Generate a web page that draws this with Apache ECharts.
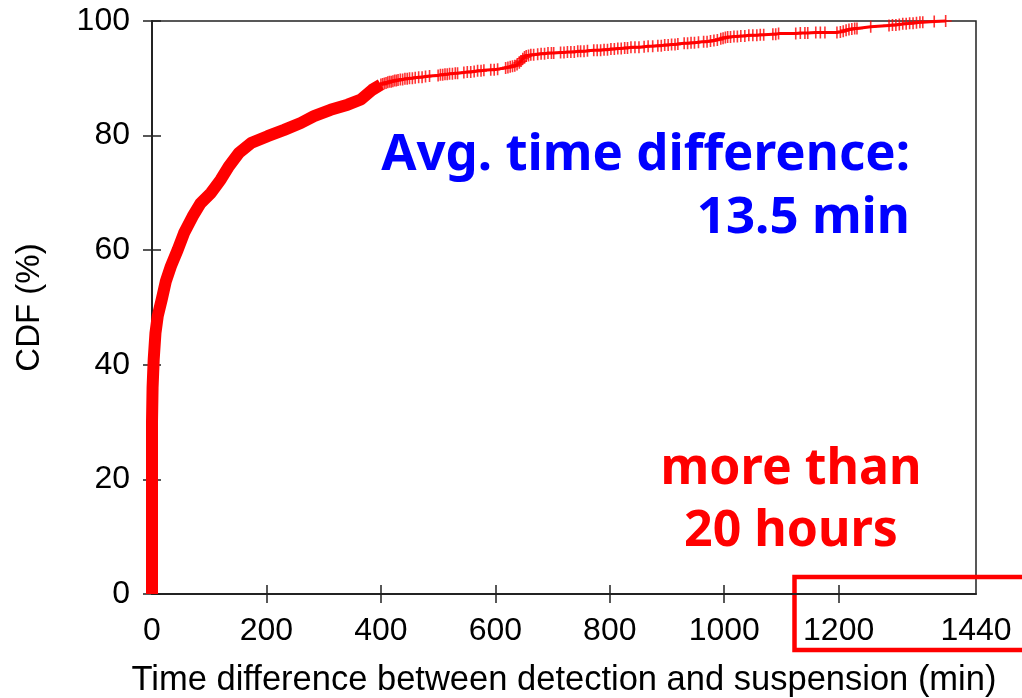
<!DOCTYPE html>
<html>
<head>
    <meta charset="utf-8">
    <script src="https://cdn.jsdelivr.net/npm/echarts@6/dist/echarts.min.js"></script>
    <style>
        html, body { margin: 0; padding: 0; background: #fff; }
    </style>
</head>
<body>
    <div id="cdf" style="width: 1022px;height:698px;"></div>
    <script type="text/javascript">
        // x: minutes between detection and suspension, y: CDF (%)
        // dense part of the curve (markers merge into a solid band)
        var denseMin = [0, 0, 0, 0, 1, 3, 6, 10, 17, 24, 33, 45, 56, 71, 85, 103, 120, 134, 152, 173, 202, 231, 260, 283, 312, 342, 365, 385, 400];
        var densePct = [0, 10, 20, 30, 36, 41, 45.5, 48.5, 51.4, 54.5, 57.2, 60.1, 63, 65.9, 68.2, 70, 72.3, 74.6, 77, 78.7, 79.9, 81, 82.2, 83.4, 84.5, 85.4, 86.3, 88, 88.9];

        // tail, where the single '+' markers can still be told apart
        var tailMin = [400, 403, 406, 409, 412, 415, 418, 421, 424, 427, 430, 434, 438, 442, 446, 450, 455, 460, 466, 472, 478, 485,
            500, 504, 508, 512, 516, 520, 525, 530, 534, 545, 551, 557, 563, 569, 575, 580, 592, 598, 604,
            618, 622, 626, 630, 634, 638, 642, 645, 648, 651, 654, 658, 662, 667, 674, 680, 686, 692, 698, 702,
            714, 720, 726, 732, 738, 744, 749, 755, 761, 772, 778, 784, 790, 796, 802, 808, 814, 820, 826, 831,
            837, 844, 851, 860, 867, 875, 884, 890, 896, 902, 908, 914, 919, 930, 936, 942, 948, 955,
            964, 970, 976, 982, 988, 994, 998, 1002, 1006, 1011, 1017, 1023, 1029, 1036, 1043, 1050, 1057, 1063, 1069,
            1085, 1090, 1095, 1125, 1133, 1141, 1146, 1160, 1168, 1176, 1197, 1203, 1208, 1213, 1218, 1223, 1228, 1232,
            1256, 1288, 1294, 1300, 1306, 1312, 1318, 1324, 1330, 1336, 1342, 1347, 1367, 1387];
        var tailPct = [88.9, 89.0, 89.1, 89.2, 89.3, 89.4, 89.4, 89.5, 89.6, 89.6, 89.7, 89.8, 89.8, 89.9, 89.9, 90.0, 90.0, 90.1, 90.2, 90.2, 90.3, 90.4,
            90.5, 90.6, 90.6, 90.7, 90.7, 90.8, 90.8, 90.9, 90.9, 91.0, 91.1, 91.1, 91.2, 91.3, 91.3, 91.4, 91.5, 91.5, 91.6,
            91.8, 91.9, 92.0, 92.1, 92.2, 92.4, 92.7, 93.0, 93.4, 93.7, 93.9, 94.0, 94.1, 94.1, 94.2, 94.3, 94.3, 94.4, 94.4, 94.4,
            94.5, 94.5, 94.6, 94.6, 94.6, 94.7, 94.7, 94.7, 94.8, 94.9, 94.9, 94.9, 95.0, 95.0, 95.1, 95.1, 95.2, 95.2, 95.3, 95.3,
            95.4, 95.4, 95.4, 95.5, 95.6, 95.6, 95.7, 95.7, 95.8, 95.8, 95.9, 95.9, 96.0, 96.1, 96.1, 96.2, 96.2, 96.3,
            96.4, 96.4, 96.5, 96.6, 96.7, 96.9, 97.0, 97.1, 97.2, 97.2, 97.3, 97.3, 97.4, 97.4, 97.5, 97.5, 97.5, 97.6, 97.6,
            97.7, 97.7, 97.8, 97.8, 97.9, 97.9, 97.9, 98.0, 98.0, 98.0, 98.0, 98.1, 98.2, 98.4, 98.5, 98.6, 98.7, 98.7,
            99.0, 99.2, 99.3, 99.3, 99.4, 99.5, 99.5, 99.6, 99.6, 99.7, 99.8, 99.8, 99.9, 100];

        var xLabels = [0, 200, 400, 600, 800, 1000, 1200, 1440];
        var xTicks = [200, 400, 600, 800, 1000, 1200];

        function pairs(xs, ys) {
            var out = [];
            for (var i = 0; i < xs.length; i++) out.push([xs[i], ys[i]]);
            return out;
        }

        var plus = 'path://M5.2,0H6.8V5.2H12V6.8H6.8V12H5.2V6.8H0V5.2H5.2Z';
        var tickFont = { fontFamily: 'Liberation Sans', fontSize: 32, color: '#000' };
        var frame = { color: '#222', width: 1.5 };

        var myChart = echarts.init(document.getElementById('cdf'));
        option = {
            animation: false,
            grid: {
                left: 152, right: 46, top: 21, bottom: 104, containLabel: false, outerBoundsMode: 'none',
                show: true, borderColor: '#222', borderWidth: 1.5
            },
            xAxis: [{
                type: 'value', min: 0, max: 1440,
                name: 'Time difference between detection and suspension (min)',
                nameLocation: 'middle', nameGap: 69,
                nameTextStyle: { fontFamily: 'Liberation Sans', fontSize: 34.5, color: '#000' },
                axisLine: { lineStyle: frame },
                axisTick: { inside: true, length: 9, customValues: xTicks, lineStyle: frame },
                axisLabel: Object.assign({ margin: 21, customValues: xLabels, formatter: function (v) { return String(v); } }, tickFont),
                splitLine: { show: false }
            }, {
                type: 'value', min: 0, max: 1440, position: 'top',
                axisLine: { lineStyle: frame },
                axisTick: { inside: true, length: 9, customValues: xTicks, lineStyle: frame },
                axisLabel: { show: false },
                splitLine: { show: false }
            }],
            yAxis: [{
                type: 'value', min: 0, max: 100, interval: 20,
                name: 'CDF (%)', nameLocation: 'middle', nameGap: 106,
                nameTextStyle: { fontFamily: 'Liberation Sans', fontSize: 33, color: '#000' },
                axisLine: { show: true, lineStyle: frame },
                axisTick: { show: true, inside: true, length: 9, lineStyle: frame },
                axisLabel: Object.assign({ margin: 22 }, tickFont),
                splitLine: { show: false }
            }, {
                type: 'value', min: 0, max: 100, interval: 20, position: 'right',
                axisLine: { show: true, lineStyle: frame },
                axisTick: { show: true, inside: true, length: 9, lineStyle: frame },
                axisLabel: { show: false },
                splitLine: { show: false }
            }],
            series: [{
                type: 'line', clip: false, showSymbol: false,
                data: pairs(denseMin, densePct),
                lineStyle: { color: '#ff0000', width: 12, join: 'round', cap: 'butt' }
            }, {
                type: 'line', clip: false, symbol: plus, symbolSize: 12, showAllSymbol: true,
                itemStyle: { color: 'rgba(255,0,0,0.8)' },
                data: pairs(tailMin, tailPct),
                lineStyle: { color: '#ff0000', width: 3 }
            }],
            graphic: [
                { type: 'text', x: 910, y: 155, style: { text: 'Avg. time difference:', fill: '#0000ff', font: 'bold 51px "Noto Sans"', align: 'right', verticalAlign: 'middle' } },
                { type: 'text', x: 910, y: 218, style: { text: '13.5 min', fill: '#0000ff', font: 'bold 51px "Noto Sans"', align: 'right', verticalAlign: 'middle' } },
                { type: 'text', x: 791, y: 470, style: { text: 'more than', fill: '#ff0000', font: 'bold 50px "Noto Sans"', align: 'center', verticalAlign: 'middle' } },
                { type: 'text', x: 791, y: 532, style: { text: '20 hours', fill: '#ff0000', font: 'bold 50px "Noto Sans"', align: 'center', verticalAlign: 'middle' } },
                { type: 'rect', shape: { x: 794.5, y: 577, width: 240, height: 73 }, style: { fill: 'none', stroke: '#ff0000', lineWidth: 4.5 } }
            ]
        };
        myChart.setOption(option);
    </script>
</body>
</html>
